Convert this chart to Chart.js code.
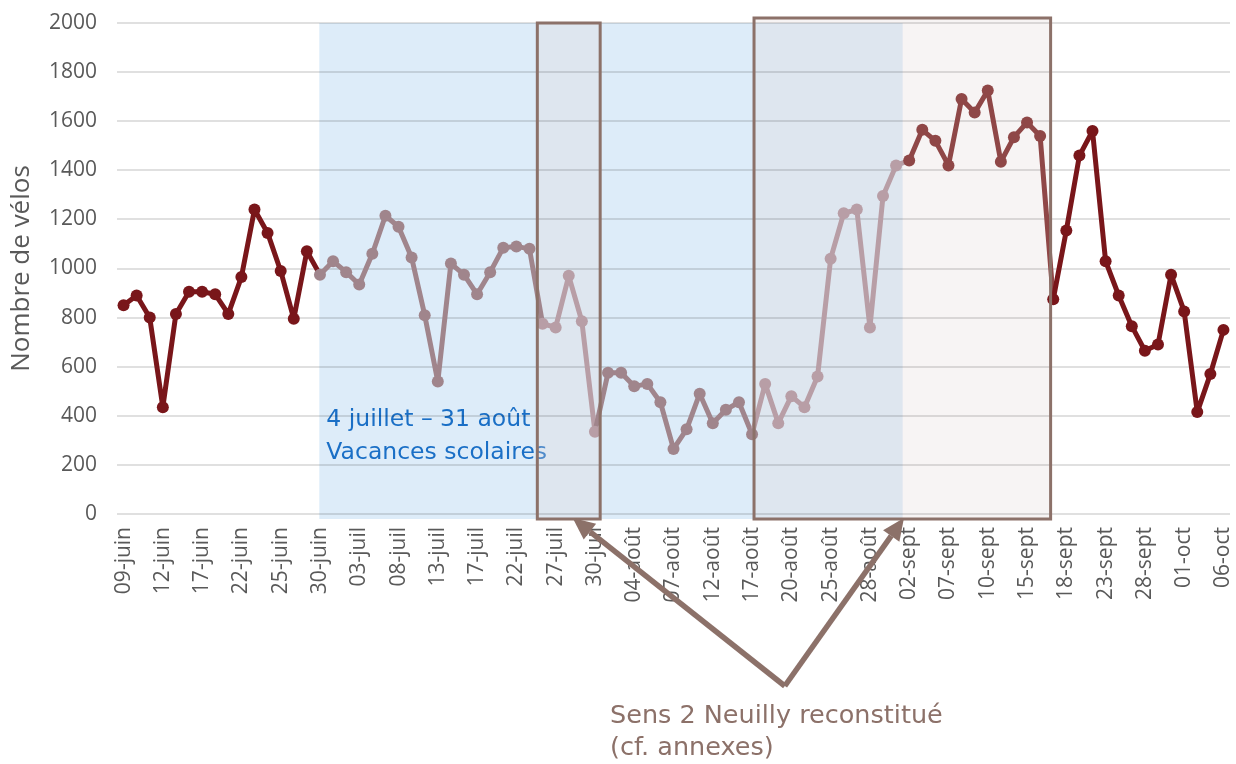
<!DOCTYPE html>
<html>
<head>
<meta charset="utf-8">
<script src="https://cdn.jsdelivr.net/npm/chart.js@4.4.1/dist/chart.umd.min.js"></script>
<style>
  html, body { margin: 0; padding: 0; background: #fff; }
</style>
</head>
<body>
<canvas id="velos" width="1236" height="764"></canvas>
<script>
// daily counts, one point per recorded day
const dates = [
  '09-juin','10-juin','11-juin','12-juin','14-juin','16-juin','17-juin','19-juin','20-juin','22-juin',
  '23-juin','24-juin','25-juin','27-juin','28-juin','30-juin','01-juil','02-juil','03-juil','05-juil',
  '06-juil','08-juil','10-juil','11-juil','13-juil','14-juil','16-juil','17-juil','19-juil','20-juil',
  '22-juil','24-juil','25-juil','27-juil','28-juil','29-juil','30-juil','01-août','02-août','04-août',
  '05-août','06-août','07-août','09-août','10-août','12-août','14-août','15-août','17-août','18-août',
  '19-août','20-août','22-août','23-août','25-août','26-août','27-août','28-août','30-août','31-août',
  '02-sept','04-sept','05-sept','07-sept','08-sept','09-sept','10-sept','12-sept','13-sept','15-sept',
  '16-sept','17-sept','18-sept','20-sept','21-sept','23-sept','25-sept','26-sept','28-sept','29-sept',
  '30-sept','01-oct','03-oct','04-oct','06-oct'
];
const counts = [
  850, 890, 800, 435, 815, 905, 905, 895, 815, 965,
  1240, 1145, 990, 795, 1070, 975, 1030, 985, 935, 1060,
  1215, 1170, 1045, 810, 540, 1020, 975, 895, 985, 1085,
  1090, 1080, 775, 760, 970, 785, 335, 575, 575, 520,
  530, 455, 265, 345, 490, 370, 425, 455, 325, 530,
  370, 480, 435, 560, 1040, 1225, 1240, 760, 1295, 1420,
  1440, 1565, 1520, 1420, 1690, 1635, 1725, 1435, 1535, 1595,
  1540, 875, 1155, 1460, 1560, 1030, 890, 765, 665, 690,
  975, 825, 415, 570, 750
];
const yTicks = [0, 200, 400, 600, 800, 1000, 1200, 1400, 1600, 1800, 2000];

// periods, as point indexes
const vacStart = 15, reconst1 = [32, 36], reconst2 = [49, 59], septEnd = 70;

const RED = '#79161a', MAUVE = '#a0858c', LIGHT = '#b89ea6', SEPT = '#8f4747';
const BROWN = '#8c7169';
const FONT = "'Open Sans', sans-serif";
const NOTE_FONT = "'DejaVu Sans', sans-serif";

function segColor(i) {
  if (i < vacStart) return RED;
  if (i >= reconst1[0] && i <= reconst1[1] - 1) return LIGHT;
  if (i >= reconst2[0] - 1 && i <= reconst2[1]) return LIGHT;
  if (i > reconst2[1] && i <= septEnd) return SEPT;
  if (i > septEnd) return RED;
  return MAUVE;
}
function pointColor(i) {
  if (i < vacStart) return RED;
  if (i >= reconst1[0] && i <= reconst1[1]) return LIGHT;
  if (i >= reconst2[0] && i <= reconst2[1]) return LIGHT;
  if (i > reconst2[1] && i <= septEnd) return SEPT;
  if (i > septEnd) return RED;
  return MAUVE;
}

function arrow(ctx, x0, y0, x1, y1) {
  const a = Math.atan2(y1 - y0, x1 - x0);
  const L = 22, W = 10;
  const bx = x1 - L * Math.cos(a), by = y1 - L * Math.sin(a);
  ctx.beginPath();
  ctx.moveTo(x0, y0);
  ctx.lineTo(bx, by);
  ctx.stroke();
  ctx.beginPath();
  ctx.moveTo(x1, y1);
  ctx.lineTo(bx + W * Math.sin(a), by - W * Math.cos(a));
  ctx.lineTo(bx - W * Math.sin(a), by + W * Math.cos(a));
  ctx.closePath();
  ctx.fill();
}

const backdrop = {
  id: 'backdrop',
  beforeDraw(chart) {
    const { ctx, scales: { x, y } } = chart;
    const top = y.getPixelForValue(2000), bot = y.getPixelForValue(0) + 5;
    ctx.save();
    // school holidays band
    const b0 = x.getPixelForValue(14.95), b1 = x.getPixelForValue(59.5);
    ctx.fillStyle = '#ddecf9';
    ctx.fillRect(b0, top, b1 - b0, bot - top);
    ctx.fillStyle = '#1a6fc6';
    ctx.font = '23.5px ' + NOTE_FONT;
    ctx.textBaseline = 'middle';
    ctx.fillText('4 juillet – 31 août', b0 + 7, 420);
    ctx.fillText('Vacances scolaires', b0 + 7, 453);
    // reconstructed periods
    ctx.fillStyle = 'rgba(226,216,216,0.27)';
    const r1a = x.getPixelForValue(31.6), r1b = x.getPixelForValue(36.4);
    const r2a = x.getPixelForValue(48.15), r2b = x.getPixelForValue(70.8);
    ctx.fillRect(r1a, top, r1b - r1a, bot - top);
    ctx.fillRect(r2a, top - 5, r2b - r2a, bot - top + 5);
    ctx.restore();
  },
  afterDatasetsDraw(chart) {
    const { ctx, scales: { x, y } } = chart;
    const top = y.getPixelForValue(2000), bot = y.getPixelForValue(0) + 5;
    ctx.save();
    ctx.strokeStyle = BROWN;
    ctx.fillStyle = BROWN;
    ctx.lineWidth = 3;
    const r1a = x.getPixelForValue(31.6), r1b = x.getPixelForValue(36.4);
    const r2a = x.getPixelForValue(48.15), r2b = x.getPixelForValue(70.8);
    ctx.strokeRect(r1a, top, r1b - r1a, bot - top);
    ctx.strokeRect(r2a, top - 5, r2b - r2a, bot - top + 5);
    // arrows
    ctx.lineWidth = 5.5;
    const ax = x.getPixelForValue(50.5), ay = 686;
    arrow(ctx, ax, ay, x.getPixelForValue(34.3), bot - 1);
    arrow(ctx, ax, ay, x.getPixelForValue(59.6), bot - 1);
    ctx.font = '25.5px ' + NOTE_FONT;
    ctx.textBaseline = 'middle';
    ctx.fillText('Sens 2 Neuilly reconstitué', 610, 716);
    ctx.fillText('(cf. annexes)', 610, 748);
    ctx.restore();
  }
};

new Chart(document.getElementById('velos'), {
  type: 'line',
  data: {
    labels: dates,
    datasets: [{
      data: counts,
      borderWidth: 5,
      borderJoinStyle: 'round',
      borderCapStyle: 'round',
      pointRadius: 6,
      pointHoverRadius: 6,
      pointBorderWidth: 0,
      pointBackgroundColor: counts.map((v, i) => pointColor(i)),
      borderColor: RED,
      segment: { borderColor: ctx => segColor(ctx.p0DataIndex) },
      tension: 0,
      fill: false,
    }]
  },
  options: {
    responsive: false,
    animation: false,
    devicePixelRatio: 1,
    layout: { padding: { top: 23, right: 5, left: 0, bottom: 0 } },
    plugins: {
      legend: { display: false },
      tooltip: { enabled: false }
    },
    scales: {
      x: {
        offset: true,
        grid: { display: false, drawTicks: false },
        border: { display: false },
        ticks: {
          autoSkip: false,
          maxRotation: 90,
          minRotation: 90,
          padding: 13,
          color: '#595959',
          font: { family: FONT, size: 21 },
          callback: (v, i) => (i % 3 === 0 ? dates[i] : '')
        },
        afterFit: s => { s.height = 250; s.paddingLeft = 0; s.paddingRight = 0; }
      },
      y: {
        min: 0,
        max: 2000,
        afterBuildTicks: s => { s.ticks = yTicks.map(v => ({ value: v })); },
        grid: { color: 'rgba(0,0,0,0.12)', lineWidth: 2, drawTicks: false },
        border: { display: false },
        ticks: {
          padding: 20,
          color: '#595959',
          font: { family: FONT, size: 21 },
          callback: v => String(v)
        },
        title: {
          display: true,
          text: 'Nombre de vélos',
          color: '#595959',
          font: { family: FONT, size: 26 },
          padding: { top: 6, bottom: 0 }
        },
        afterFit: s => { s.width = 117; s.paddingTop = 0; s.paddingBottom = 0; }
      }
    }
  },
  plugins: [backdrop]
});
</script>
</body>
</html>
